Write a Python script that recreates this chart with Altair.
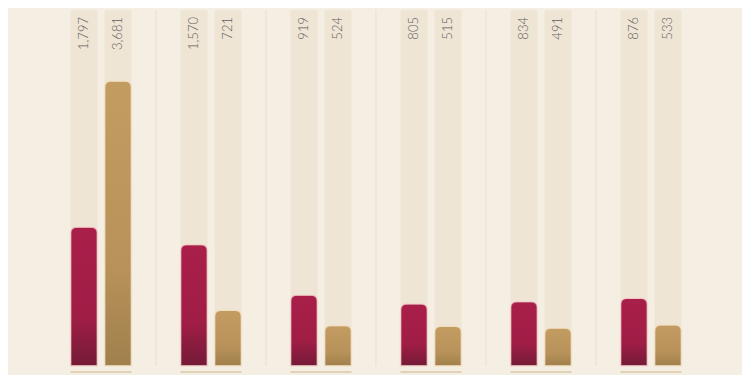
import altair as alt
import pandas as pd

groups = ["G1", "G2", "G3", "G4", "G5", "G6"]
series_a = [1797, 1570, 919, 805, 834, 876]
series_b = [3681, 721, 524, 515, 491, 533]
y_max = 4600

rows = []
for g, a, b in zip(groups, series_a, series_b):
    rows.append({"group": g, "series": "A", "value": a, "label": f"{a:,}", "top": y_max})
    rows.append({"group": g, "series": "B", "value": b, "label": f"{b:,}", "top": y_max})
df = pd.DataFrame(rows)
gdf = pd.DataFrame({"group": groups, "top": [y_max] * 6, "zero": [0] * 6, "last": [g == groups[-1] for g in groups]})

W, H = 660, 356

xs = alt.X("group:N", axis=None, sort=groups,
           scale=alt.Scale(paddingInner=0, paddingOuter=0))
xo = alt.XOffset("series:N", scale=alt.Scale(domain=["A", "B"], paddingInner=0.206, paddingOuter=0.72))
ysc = alt.Scale(domain=[0, y_max], nice=False, zero=True)

base = alt.Chart(df)

bg_bars = base.mark_bar(color="#efe5d4", cornerRadius=0).encode(
    x=xs, xOffset=xo,
    y=alt.Y("top:Q", scale=ysc, axis=None),
    y2=alt.datum(0),
)

grad_a = alt.Gradient(gradient="linear", x1=0, y1=0, x2=0, y2=1,
                      stops=[alt.GradientStop(color="#a91f4a", offset=0),
                             alt.GradientStop(color="#a01d46", offset=0.65),
                             alt.GradientStop(color="#731b37", offset=1)])
grad_b = alt.Gradient(gradient="linear", x1=0, y1=0, x2=0, y2=1,
                      stops=[alt.GradientStop(color="#c29c61", offset=0),
                             alt.GradientStop(color="#b8925a", offset=0.65),
                             alt.GradientStop(color="#a0804c", offset=1)])

bars_a = base.transform_filter(alt.datum.series == "A").mark_bar(
    fill=grad_a, cornerRadiusTopLeft=6, cornerRadiusTopRight=6,
    stroke="#f3d6cf", strokeWidth=1.5, strokeOpacity=0.7
).encode(x=xs, xOffset=xo, y=alt.Y("value:Q", scale=ysc, axis=None))

bars_b = base.transform_filter(alt.datum.series == "B").mark_bar(
    fill=grad_b, cornerRadiusTopLeft=6, cornerRadiusTopRight=6,
    stroke="#f3e3c8", strokeWidth=1.5, strokeOpacity=0.7
).encode(x=xs, xOffset=xo, y=alt.Y("value:Q", scale=ysc, axis=None))

labels = base.mark_text(
    angle=270, align="right", baseline="middle", dx=-7,
    font="Lato", fontSize=13, fontWeight=300, color="#5f5f5f"
).encode(x=xs, xOffset=xo, y=alt.Y("top:Q", scale=ysc, axis=None), text="label:N")

dividers = alt.Chart(gdf).transform_filter(~alt.datum.last).mark_rule(
    color="#ebe2d3", strokeWidth=1.2
).encode(
    x=alt.X("group:N", axis=None, sort=groups, bandPosition=1,
            scale=alt.Scale(paddingInner=0, paddingOuter=0)),
    y=alt.Y("top:Q", scale=ysc, axis=None),
    y2=alt.Y2("zero:Q"),
)

underline = alt.Chart(gdf).mark_tick(
    orient="horizontal", color="#d8c4a2", thickness=2, size=61, yOffset=6
).encode(
    x=alt.X("group:N", axis=None, sort=groups,
            scale=alt.Scale(paddingInner=0, paddingOuter=0)),
    y=alt.Y("zero:Q", scale=ysc, axis=None),
)

chart = alt.layer(bg_bars, dividers, bars_a, bars_b, labels, underline).properties(
    width=W, height=H,
    autosize=alt.AutoSizeParams(type="none"),
    padding={"left": 38, "top": 2, "right": 36, "bottom": 9},
    background="#f5eee3",
).configure_view(stroke=None)

chart.save("out.html", embed_options={"renderer": "svg", "actions": False})
